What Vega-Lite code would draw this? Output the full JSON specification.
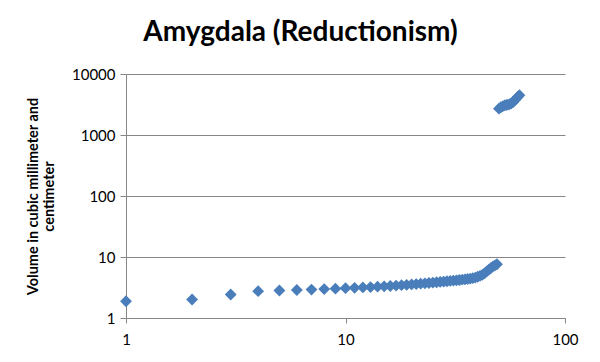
{
  "$schema": "https://vega.github.io/schema/vega-lite/v6.json",
  "width": 439,
  "height": 244,
  "autosize": {"type": "none"},
  "padding": {"left": 126, "top": 74, "right": 35, "bottom": 44},
  "background": "white",
  "title": {
    "text": "Amygdala (Reductionism)",
    "font": "Lato",
    "fontSize": 28,
    "fontWeight": "bold",
    "color": "#000000",
    "anchor": "middle",
    "dx": -45,
    "baseline": "alphabetic",
    "offset": -2
  },
  "data": {
    "values": [
      {"n": 1, "v": 1.88}, {"n": 2, "v": 2.01}, {"n": 3, "v": 2.43}, {"n": 4, "v": 2.75},
      {"n": 5, "v": 2.82}, {"n": 6, "v": 2.88}, {"n": 7, "v": 2.92}, {"n": 8, "v": 2.98},
      {"n": 9, "v": 3.03}, {"n": 10, "v": 3.08}, {"n": 11, "v": 3.12}, {"n": 12, "v": 3.17},
      {"n": 13, "v": 3.21}, {"n": 14, "v": 3.26}, {"n": 15, "v": 3.3}, {"n": 16, "v": 3.35},
      {"n": 17, "v": 3.4}, {"n": 18, "v": 3.45}, {"n": 19, "v": 3.5}, {"n": 20, "v": 3.55},
      {"n": 21, "v": 3.6}, {"n": 22, "v": 3.65}, {"n": 23, "v": 3.7}, {"n": 24, "v": 3.75},
      {"n": 25, "v": 3.8}, {"n": 26, "v": 3.85}, {"n": 27, "v": 3.9}, {"n": 28, "v": 3.95},
      {"n": 29, "v": 4.0}, {"n": 30, "v": 4.05}, {"n": 31, "v": 4.1}, {"n": 32, "v": 4.15},
      {"n": 33, "v": 4.2}, {"n": 34, "v": 4.25}, {"n": 35, "v": 4.3}, {"n": 36, "v": 4.36},
      {"n": 37, "v": 4.42}, {"n": 38, "v": 4.5}, {"n": 39, "v": 4.6}, {"n": 40, "v": 4.75},
      {"n": 41, "v": 4.9}, {"n": 42, "v": 5.1}, {"n": 43, "v": 5.4}, {"n": 44, "v": 5.8},
      {"n": 45, "v": 6.2}, {"n": 46, "v": 6.6}, {"n": 47, "v": 7.0}, {"n": 48, "v": 7.3},
      {"n": 49, "v": 7.6},
      {"n": 50, "v": 2700}, {"n": 51, "v": 2850}, {"n": 52, "v": 2950}, {"n": 53, "v": 3050},
      {"n": 54, "v": 3100}, {"n": 55, "v": 3150}, {"n": 56, "v": 3200}, {"n": 57, "v": 3300},
      {"n": 58, "v": 3450}, {"n": 59, "v": 3700}, {"n": 60, "v": 3950}, {"n": 61, "v": 4250},
      {"n": 62, "v": 4500}
    ]
  },
  "mark": {"type": "point", "shape": "diamond", "filled": true, "size": 140, "color": "#4A7EBB", "opacity": 1},
  "encoding": {
    "x": {
      "field": "n",
      "type": "quantitative",
      "scale": {"type": "log", "domain": [1, 100], "nice": false},
      "axis": {
        "title": null,
        "values": [1, 10, 100],
        "format": "d",
        "grid": false,
        "domainColor": "#868686",
        "tickColor": "#868686",
        "tickSize": 5,
        "labelPadding": 9,
        "labelFont": "Lato",
        "labelFontSize": 15,
        "labelColor": "#000000",
        "labelFlush": false
      }
    },
    "y": {
      "field": "v",
      "type": "quantitative",
      "scale": {"type": "log", "domain": [1, 10000], "nice": false},
      "axis": {
        "title": ["Volume in cubic millimeter and", "centimeter"],
        "titleFont": "Lato",
        "titleFontSize": 14.5,
        "titleFontWeight": "bold",
        "titleColor": "#000000",
        "titlePadding": 15,
        "titleLineHeight": 16,
        "values": [1, 10, 100, 1000, 10000],
        "format": "d",
        "grid": true,
        "gridColor": "#868686",
        "domainColor": "#868686",
        "tickColor": "#868686",
        "tickSize": 6,
        "labelPadding": 5,
        "labelFont": "Lato",
        "labelFontSize": 15,
        "labelColor": "#000000",
        "labelFlush": false
      }
    }
  },
  "config": {
    "view": {"stroke": null}
  }
}
